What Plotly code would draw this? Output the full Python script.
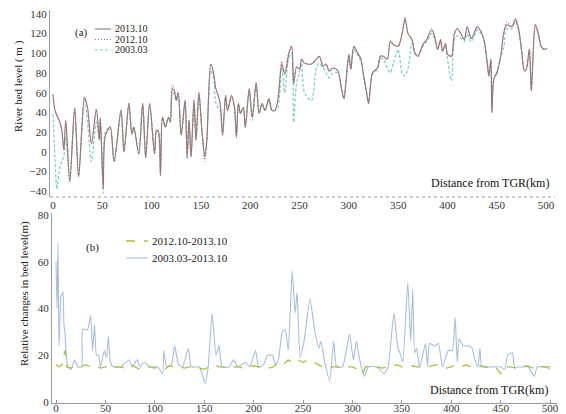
import plotly.graph_objects as go

# Reference picture size; the page body adds an 8px margin, so the figure is drawn 8px smaller
W, H = 566, 414
OFF = 8
FW, FH = W - OFF, H - OFF

# ---------------- Panel (a): river bed level ----------------
km_a = [0, 2, 4, 7, 9, 11, 13, 17, 22, 26, 32, 35, 39, 44, 47, 48, 51, 53, 58, 62,
        69, 72, 77, 80, 82, 87, 91, 94, 98, 103, 105, 107, 109, 111, 114, 117, 119, 121,
        123, 125, 127, 130, 134, 136, 138, 140, 143, 145, 148, 151, 154, 156, 160, 163,
        165, 169, 170, 172, 175, 177, 181, 184, 186, 188, 190, 193, 195, 199, 202, 206,
        209, 212, 215, 219, 222, 225, 228, 232, 235, 239, 242, 244, 247, 250, 252, 255,
        262, 267, 270, 274, 277, 280, 284, 289, 292, 295, 297, 300, 302, 305, 309, 312,
        315, 318, 320, 324, 329, 332, 335, 339, 342, 345, 350, 354, 357, 360, 364, 367,
        370, 375, 379, 384, 387, 390, 393, 395, 398, 400, 404, 407, 410, 414, 417, 420,
        424, 427, 430, 434, 437, 440, 442, 444, 445, 447, 450, 454, 457, 460, 465, 469,
        472, 475, 478, 480, 483, 485, 489, 492, 495, 498, 501]

bed_2013 = [58, 42, 37, 30, 22, 2, 32, -30, 44, -25, 55, 45, 8, 43, 12, 34, -37, 16, 25, -10,
            42, 0, 49, 18, 25, -2, 49, -6, 49, -2, 22, 20, -24, 35, 25, 35, 30, 64,
            62, 52, 60, 17, 52, -5, 32, -5, 52, 12, 60, 22, -5, 12, 89, 79,
            65, 52, 44, 17, 57, 42, 57, 45, 15, 49, 39, 45, 25, 64, 35, 70,
            39, 49, 42, 54, 42, 42, 52, 89, 79, 99, 107, 69, 86, 84, 94, 90,
            89, 94, 97, 87, 89, 82, 85, 82, 67, 54, 70, 99, 84, 107, 100, 95,
            77, 60, 49, 80, 85, 97, 97, 94, 112, 109, 107, 120, 135, 120, 114, 100,
            97, 109, 114, 124, 117, 104, 114, 102, 110, 99, 97, 120, 125, 119, 114, 127,
            115, 120, 127, 122, 114, 92, 77, 94, 40, 74, 80, 97, 120, 129, 127, 134,
            125, 104, 82, 84, 104, 62, 129, 120, 107, 104, 105]

bed_2012 = [58, 42, 37, 30, 22, 2, 32, -30, 44, -25, 56, 45, 8, 43, 12, 34, -37, 16, 25, -10,
            42, 0, 49, 18, 25, -2, 49, -6, 49, -2, 22, 20, -24, 35, 25, 35, 30, 68,
            64, 55, 60, 17, 52, -5, 32, -5, 52, 12, 60, 22, -10, 12, 89, 79,
            65, 52, 44, 17, 57, 42, 57, 45, 15, 49, 39, 45, 25, 64, 35, 70,
            39, 49, 42, 54, 42, 42, 55, 92, 79, 101, 108, 69, 86, 84, 94, 90,
            89, 94, 97, 87, 89, 82, 85, 82, 67, 54, 70, 99, 84, 107, 100, 95,
            77, 60, 49, 80, 85, 97, 97, 94, 113, 109, 107, 121, 137, 120, 114, 100,
            97, 109, 114, 125, 117, 104, 114, 102, 110, 99, 97, 120, 125, 119, 114, 127,
            115, 120, 127, 122, 114, 95, 77, 94, 40, 74, 80, 97, 122, 132, 127, 136,
            125, 104, 82, 84, 104, 62, 129, 120, 107, 104, 105]

bed_2003 = [38, -5, -38, -15, -10, -5, 15, -30, 44, -25, 55, 30, -10, 30, 12, 34, -42, 20, 25, -10,
            42, 0, 49, 18, 25, -2, 49, -6, 49, -2, 22, 20, -24, 35, 25, 35, 30, 60,
            58, 52, 55, 17, 52, -8, 32, -5, 52, 12, 58, 22, -5, 12, 82, 74,
            50, 42, 42, 17, 55, 42, 55, 45, 15, 49, 39, 45, 25, 62, 32, 67,
            39, 49, 42, 52, 42, 42, 45, 85, 60, 95, 100, 30, 70, 80, 90, 60,
            52, 85, 90, 85, 80, 75, 80, 80, 67, 54, 70, 97, 84, 104, 98, 92,
            77, 60, 49, 80, 84, 95, 94, 85, 80, 90, 104, 80, 77, 85, 110, 100,
            97, 107, 112, 120, 114, 104, 112, 102, 108, 94, 72, 114, 118, 115, 112, 120,
            112, 117, 124, 120, 114, 92, 77, 94, 40, 74, 80, 97, 105, 125, 125, 132,
            124, 104, 82, 84, 104, 62, 129, 120, 107, 104, 105]

# ---------------- Panel (b): relative changes ----------------
km_blue = [0, 1, 2, 3, 5, 7, 8, 9, 10, 12, 15, 19, 22, 26, 27, 32, 35, 37, 39, 41, 43, 45,
           49, 51, 53, 55, 58, 65, 74, 77, 82, 85, 89, 95, 103, 108, 109, 112, 117, 120,
           124, 128, 134, 137, 145, 151, 154, 158, 162, 165, 168, 175, 180, 184, 192, 196,
           202, 205, 210, 214, 219, 222, 225, 229, 232, 235, 239, 242, 244, 247, 251, 257,
           262, 266, 268, 272, 277, 281, 284, 290, 297, 301, 304, 306, 309, 312, 316, 325,
           332, 336, 342, 346, 349, 351, 356, 359, 361, 363, 365, 368, 374, 376, 378, 383,
           387, 391, 397, 401, 404, 406, 408, 412, 418, 421, 424, 427, 429, 431, 440, 450,
           454, 457, 462, 464, 470, 478, 484, 487, 495, 500]
chg_0313 = [60, 40, 68, 24, 45, 47, 33, 30, 22, 15, 14, 18, 15, 15, 31, 31, 37, 22, 33, 20, 20, 15,
            22, 19, 28, 17, 15, 15, 18, 15, 18, 15, 17, 15, 15, 12, 22, 15, 16, 24,
            16, 15, 23, 15, 15, 8, 15, 38, 20, 24, 15, 15, 18, 15, 17, 15,
            22, 15, 16, 20, 20, 16, 18, 30, 31, 22, 56, 38, 47, 19, 26, 44,
            30, 23, 26, 17, 9, 26, 15, 15, 29, 18, 26, 21, 15, 11, 15, 15,
            12, 15, 38, 23, 20, 17, 51, 26, 48, 21, 23, 15, 25, 15, 25, 24,
            25, 15, 22, 22, 36, 17, 27, 24, 24, 23, 18, 15, 23, 15, 15, 15,
            14, 20, 21, 15, 15, 15, 11, 15, 15, 14]

km_green = [0, 3, 6, 9, 11, 15, 20, 25, 30, 35, 40, 45, 50, 55, 60, 65, 70, 75, 80, 85, 90,
            95, 100, 105, 110, 115, 120, 125, 130, 135, 140, 145, 150, 155, 160, 165, 170,
            175, 180, 185, 190, 195, 200, 205, 210, 215, 220, 225, 230, 235, 240, 245, 250,
            255, 260, 265, 270, 275, 280, 285, 290, 295, 300, 305, 310, 313, 320, 325, 330,
            335, 340, 345, 350, 355, 360, 365, 370, 375, 380, 385, 390, 395, 400, 405, 410,
            415, 420, 425, 430, 435, 440, 445, 450, 453, 460, 465, 470, 475, 480, 485, 490,
            495, 500]
chg_1213 = [16, 15, 16, 22, 15, 14.5, 15.5, 15, 16, 15, 15.5, 14.5, 15, 16, 15, 15, 14.5, 16, 15, 14, 15,
            15, 14.5, 15, 14, 15.5, 15, 15, 14.5, 15, 15, 14.5, 14, 15, 16, 15, 15,
            14.5, 15, 15, 14.5, 15, 15.5, 15, 15, 14.5, 15, 17, 16, 18, 16.5, 18, 17,
            18, 17.5, 16, 15, 14, 15, 15, 15.5, 15, 15, 14, 12, 15, 15.5, 15, 14.5,
            15, 15, 16, 15, 15, 15.5, 15, 15, 14.5, 15.5, 16, 15, 14.5, 15, 16, 15,
            16, 15, 15, 15.5, 15, 14.5, 15, 12, 15, 15, 14.5, 15, 15.5, 15, 14, 15,
            15, 15]

x_ticks = [0, 50, 100, 150, 200, 250, 300, 350, 400, 450, 500]

SERIF = "Liberation Serif, Times New Roman, DejaVu Serif, serif"
C13, C12, C03 = "#857d7d", "#cc6666", "#72d0c6"
CG, CB = "#a8c23c", "#a6bedd"


def px(x):
    return (x - OFF) / FW


def py(y):
    return 1 - (y - OFF) / FH


fig = go.Figure()
fig.add_trace(go.Scatter(x=km_a, y=bed_2003, mode="lines", name="2003.03",
                         line=dict(color=C03, width=1.2, dash="3px,2px", shape="spline", smoothing=0.8),
                         xaxis="x", yaxis="y", showlegend=False))
fig.add_trace(go.Scatter(x=km_a, y=bed_2013, mode="lines", name="2013.10",
                         line=dict(color=C13, width=1.1, shape="spline", smoothing=0.8),
                         xaxis="x", yaxis="y", showlegend=False))
fig.add_trace(go.Scatter(x=km_a, y=bed_2012, mode="lines", name="2012.10",
                         line=dict(color=C12, width=1.1, dash="1px,2px", shape="spline", smoothing=0.8),
                         xaxis="x", yaxis="y", showlegend=False))
fig.add_trace(go.Scatter(x=km_blue, y=chg_0313, mode="lines", name="2003.03-2013.10",
                         line=dict(color=CB, width=1.1, shape="spline", smoothing=0.5),
                         xaxis="x2", yaxis="y2", showlegend=False))
fig.add_trace(go.Scatter(x=km_green, y=chg_1213, mode="lines", name="2012.10-2013.10",
                         line=dict(color=CG, width=1.3, dash="dash"),
                         xaxis="x2", yaxis="y2", showlegend=False))

tickfont = dict(family=SERIF, size=11, color="#333333")

fig.update_layout(
    width=FW, height=FH,
    margin=dict(l=0, r=0, t=0, b=0),
    paper_bgcolor="white", plot_bgcolor="white",
    xaxis=dict(domain=[px(50), px(555)], range=[-3, 509], anchor="y",
               tickvals=x_ticks, ticktext=[str(v) for v in x_ticks],
               showgrid=False, zeroline=False, showline=False,
               ticks="", tickfont=tickfont, ticklabeloverflow="allow", automargin=False),
    yaxis=dict(domain=[py(197), py(10)], range=[-46, 144], anchor="x",
               tickvals=[-40, -20, 0, 20, 40, 60, 80, 100, 120, 140],
               showgrid=False, zeroline=False, showline=True, linecolor="#9a9a9a", linewidth=1,
               ticks="", tickfont=tickfont, ticklabeloverflow="allow", automargin=False),
    xaxis2=dict(domain=[px(52), px(557)], range=[-4.05, 507], anchor="y2",
                tickvals=x_ticks, ticktext=[str(v) for v in x_ticks],
                showgrid=False, zeroline=False, showline=True, linecolor="#9a9a9a", linewidth=1,
                ticks="inside", ticklen=3, tickcolor="#9a9a9a", tickfont=tickfont,
                ticklabelstandoff=-5, ticklabeloverflow="allow", automargin=False),
    yaxis2=dict(domain=[py(403), py(213)], range=[-0.43, 80.86], anchor="x2",
                tickvals=[0, 20, 40, 60, 80],
                showgrid=False, zeroline=False, showline=True, linecolor="#9a9a9a", linewidth=1,
                ticks="", tickfont=tickfont, ticklabeloverflow="allow", automargin=False),
)

shapes = [
    # dotted bottom axis line of panel (a)
    dict(type="line", xref="x domain", yref="y domain", x0=0, x1=1, y0=0, y1=0,
         line=dict(color="#9a9a9a", width=1, dash="dot")),
    # legend samples panel (a)
    dict(type="line", xref="paper", yref="paper", x0=px(95), x1=px(111), y0=py(29), y1=py(29),
         line=dict(color=C13, width=1.1)),
    dict(type="line", xref="paper", yref="paper", x0=px(95), x1=px(111), y0=py(39.5), y1=py(39.5),
         line=dict(color=C12, width=1.2, dash="1px,2px")),
    dict(type="line", xref="paper", yref="paper", x0=px(95), x1=px(111), y0=py(50), y1=py(50),
         line=dict(color=C03, width=1.2, dash="3px,2px")),
    # legend samples panel (b)
    dict(type="line", xref="paper", yref="paper", x0=px(126), x1=px(148), y0=py(241), y1=py(241),
         line=dict(color=CG, width=1.3, dash="dash")),
    dict(type="line", xref="paper", yref="paper", x0=px(126), x1=px(148), y0=py(258), y1=py(258),
         line=dict(color=CB, width=1.1)),
]

txt = dict(family=SERIF, size=11, color="#222222")
leg = dict(family=SERIF, size=10, color="#222222")
ann = [
    dict(text="(a)", x=px(81), y=py(32)),
    dict(text="2013.10", x=px(113), y=py(29), xanchor="left", font=leg),
    dict(text="2012.10", x=px(113), y=py(39.5), xanchor="left", font=leg),
    dict(text="2003.03", x=px(113), y=py(50), xanchor="left", font=leg),
    dict(text="(b)", x=px(92), y=py(247)),
    dict(text="2012.10-2013.10", x=px(150), y=py(241), xanchor="left"),
    dict(text="2003.03-2013.10", x=px(150), y=py(258), xanchor="left"),
    dict(text="Distance from TGR(km)", x=px(551), y=py(183), xanchor="right",
         font=dict(family=SERIF, size=12, color="#111111")),
    dict(text="Distance from TGR(km)", x=px(550), y=py(390), xanchor="right",
         font=dict(family=SERIF, size=12, color="#111111")),
    dict(text="River bed level ( m )", x=px(18), y=py(86), textangle=-90,
         font=dict(family=SERIF, size=11, color="#222222")),
    dict(text="Relative changes in bed level(m)", x=px(24), y=py(294), textangle=-90,
         font=dict(family=SERIF, size=11, color="#222222")),
]
annotations = []
for a in ann:
    d = dict(xref="paper", yref="paper", showarrow=False, xanchor="center", yanchor="middle", font=txt)
    d.update(a)
    annotations.append(d)

fig.update_layout(shapes=shapes, annotations=annotations)

fig.write_html("out.html")
